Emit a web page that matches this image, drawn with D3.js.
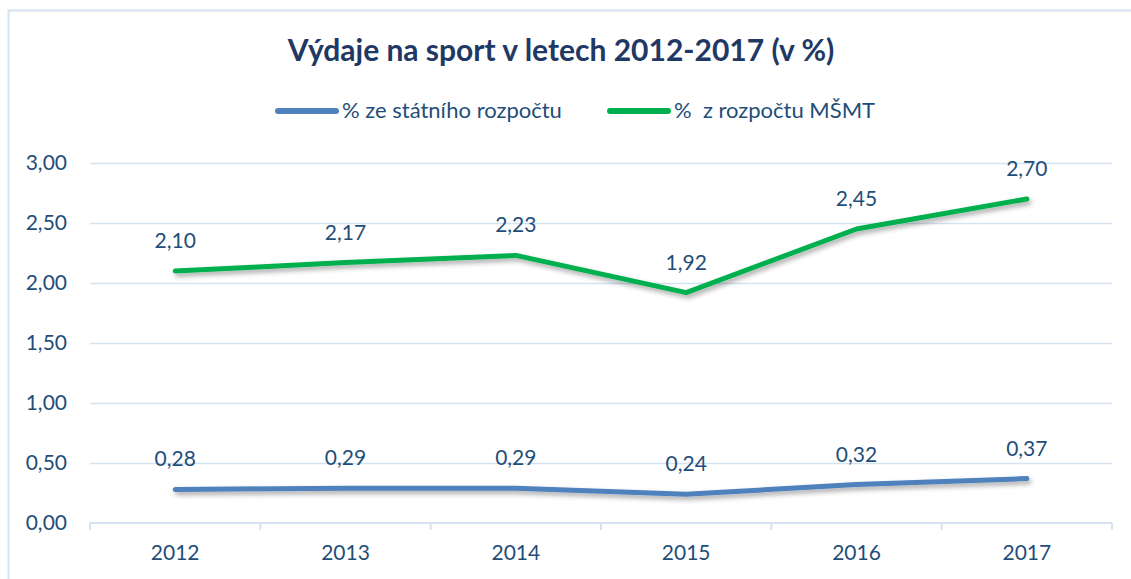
<!DOCTYPE html>
<html>
<head>
<meta charset="utf-8">
<script src="https://cdn.jsdelivr.net/npm/d3@7"></script>
<style>
  body { margin: 0; background: #fff; }
  svg { display: block; font-family: Lato, "Open Sans", sans-serif; }
</style>
</head>
<body>
<svg id="chart" width="1131" height="579"></svg>
<script>
var years = ["2012", "2013", "2014", "2015", "2016", "2017"];
var statni = [0.28, 0.29, 0.29, 0.24, 0.32, 0.37];
var msmt = [2.10, 2.17, 2.23, 1.92, 2.45, 2.70];
var yTicks = [0, 0.5, 1, 1.5, 2, 2.5, 3];
var seriesNames = ["% ze státního rozpočtu", "%  z rozpočtu MŠMT"];
var seriesColors = ["#4f81bd", "#00b050"];

var svg = d3.select("#chart");
var margin = {top: 163, left: 90, right: 19, bottom: 56};
var width = 1131, height = 579;
var textColor = "#1f4e79";
var fs = "21px";
var fmt = function(v) { return d3.format(".2f")(v).replace(".", ","); };

// outer frame (cropped on right/bottom like the source)
svg.append("rect")
  .attr("x", 8.5).attr("y", 10.5)
  .attr("width", 1140).attr("height", 600)
  .attr("fill", "none")
  .attr("stroke", "#d5e2f2")
  .attr("stroke-width", 2);

var defs = svg.append("defs");
var f = defs.append("filter").attr("id", "shadow")
  .attr("x", "-5%").attr("y", "-50%").attr("width", "110%").attr("height", "300%");
f.append("feDropShadow")
  .attr("dx", 2).attr("dy", 3).attr("stdDeviation", 2.5)
  .attr("flood-color", "#000").attr("flood-opacity", 0.35);

var x = d3.scaleBand().domain(years).range([margin.left, width - margin.right]);
var y = d3.scaleLinear().domain([0, 3]).range([height - margin.bottom, margin.top]);

// gridlines
svg.append("g").selectAll("line")
  .data(yTicks.slice(1))
  .join("line")
  .attr("x1", margin.left).attr("x2", width - margin.right)
  .attr("y1", function(d) { return Math.round(y(d)) + 0.5; })
  .attr("y2", function(d) { return Math.round(y(d)) + 0.5; })
  .attr("stroke", "#d5e2f2").attr("stroke-width", 1.5);

// y axis labels
var yAxis = d3.axisLeft(y).tickValues(yTicks).tickFormat(fmt).tickSize(0).tickPadding(23);
var gy = svg.append("g")
  .attr("transform", "translate(" + margin.left + ",0)")
  .call(yAxis);
gy.select(".domain").remove();
gy.selectAll("text").attr("fill", textColor).style("font-size", fs)
  .style("font-family", "Lato, 'Open Sans', sans-serif");

// x axis
var xAxis = d3.axisBottom(x).tickSize(0).tickPadding(22);
var gx = svg.append("g")
  .attr("transform", "translate(0," + (height - margin.bottom) + ")")
  .call(xAxis);
gx.select(".domain").attr("stroke", "#d5e2f2").attr("stroke-width", 2)
  .attr("d", "M" + margin.left + ",0H" + (width - margin.right));
gx.selectAll("text").attr("fill", textColor).style("font-size", fs)
  .style("font-family", "Lato, 'Open Sans', sans-serif");
// category separator ticks
var sep = years.map(function(d) { return x(d); }).concat([width - margin.right]);
svg.append("g").selectAll("line").data(sep).join("line")
  .attr("x1", function(d) { return d; }).attr("x2", function(d) { return d; })
  .attr("y1", height - margin.bottom).attr("y2", height - margin.bottom + 7)
  .attr("stroke", "#d5e2f2").attr("stroke-width", 2);

var line = d3.line()
  .x(function(d, i) { return x(years[i]) + x.bandwidth() / 2; })
  .y(function(d) { return y(d); });

[statni, msmt].forEach(function(data, k) {
  svg.append("path")
    .datum(data)
    .attr("fill", "none")
    .attr("stroke", seriesColors[k])
    .attr("stroke-width", 5)
    .attr("stroke-linejoin", "round")
    .attr("stroke-linecap", "round")
    .attr("filter", "url(#shadow)")
    .attr("d", line);

  svg.append("g").selectAll("text")
    .data(data)
    .join("text")
    .attr("x", function(d, i) { return x(years[i]) + x.bandwidth() / 2; })
    .attr("y", function(d) { return y(d) - 23; })
    .attr("text-anchor", "middle")
    .attr("fill", textColor)
    .style("font-size", fs)
    .text(fmt);
});

// title
svg.append("text")
  .attr("x", 561).attr("y", 61)
  .attr("text-anchor", "middle")
  .attr("fill", "#1f3864")
  .style("font-size", "30px").style("font-weight", "bold")
  .text("Výdaje na sport v letech 2012-2017 (v %)");

// legend
var legX = [278, 610];
var leg = svg.append("g").selectAll("g").data(seriesNames).join("g")
  .attr("transform", function(d, i) { return "translate(" + legX[i] + ",111)"; });
leg.append("line")
  .attr("x1", 0).attr("x2", 58).attr("y1", 0).attr("y2", 0)
  .attr("stroke", function(d, i) { return seriesColors[i]; })
  .attr("stroke-width", 6).attr("stroke-linecap", "round");
leg.append("text")
  .attr("x", 64).attr("y", 7)
  .attr("fill", textColor)
  .style("font-size", "22px")
  .attr("xml:space", "preserve")
  .style("white-space", "pre")
  .text(function(d) { return d; });
</script>
</body>
</html>
